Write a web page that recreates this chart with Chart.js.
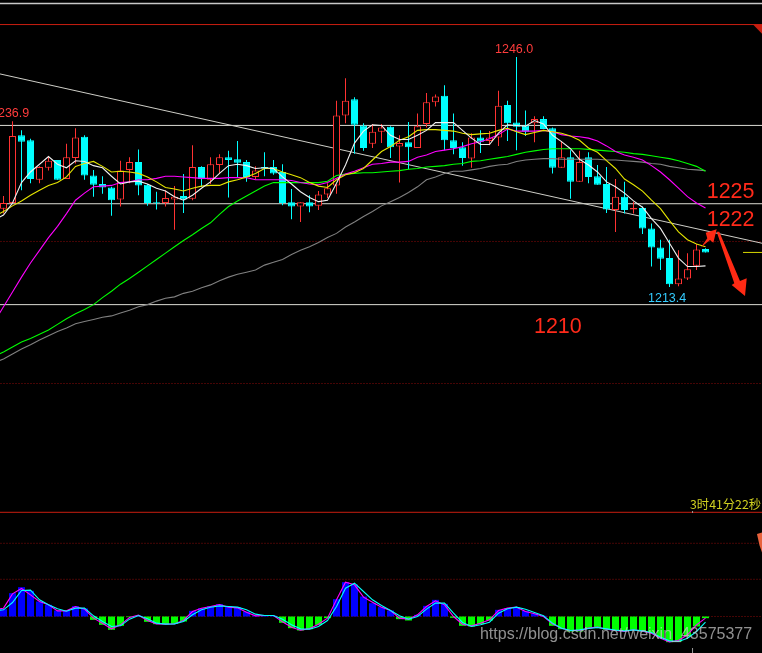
<!DOCTYPE html>
<html>
<head>
<meta charset="utf-8">
<style>
  html,body{margin:0;padding:0;background:#000;overflow:hidden}
  #wrap{position:relative;width:762px;height:653px}
</style>
<script src="https://cdn.jsdelivr.net/npm/chart.js@4"></script>
</head>
<body>
<div id="wrap"><canvas id="kline" width="762" height="653"></canvas></div>
<script>
// candles, one per bar index
const openPrices = [
  1224.5,1225.3,1234.9,1234.2,1228.6,1230.3,1231.4,1228.7,1231.7,1234.7,
  1229.2,1228.0,1227.5,1225.8,1230.0,1231.1,1227.9,1225.4,1225.3,1225.8,
  1226.3,1225.9,1230.4,1228.6,1230.7,1231.8,1231.5,1231.1,1229.0,1230.4,
  1230.4,1229.7,1225.4,1224.8,1225.4,1224.9,1226.5,1227.8,1237.7,1240.0,
  1236.3,1233.7,1235.4,1236.1,1233.3,1233.9,1233.1,1236.5,1239.6,1240.5,
  1234.2,1233.2,1231.6,1234.6,1234.1,1234.6,1239.2,1236.7,1236.3,1236.6,
  1237.2,1235.9,1230.3,1231.8,1228.3,1231.8,1229.1,1228.0,1224.3,1226.2,
  1224.4,1224.6,1221.7,1219.0,1217.5,1213.8,1214.6,1216.4,1218.8];
const closePrices = [
  1225.3,1234.8,1234.0,1228.7,1230.4,1231.3,1228.6,1231.8,1234.6,1229.2,
  1227.9,1227.5,1225.7,1229.9,1231.1,1227.8,1225.3,1225.3,1226.0,1226.2,
  1225.8,1230.4,1228.7,1230.8,1231.8,1231.4,1231.0,1229.0,1229.9,1230.2,
  1229.5,1225.3,1224.8,1225.4,1224.8,1226.5,1227.4,1237.7,1239.8,1236.4,
  1233.1,1235.4,1236.0,1233.2,1233.8,1233.2,1236.2,1239.6,1240.4,1234.2,
  1233.1,1231.7,1234.6,1234.0,1234.6,1239.1,1236.6,1236.1,1235.4,1237.2,
  1235.8,1230.3,1231.8,1228.3,1231.1,1229.0,1227.9,1224.4,1226.2,1224.3,
  1224.6,1221.7,1219.0,1217.4,1213.8,1214.6,1215.9,1218.7,1218.3];
const highPrices = [
  1226.3,1236.9,1235.6,1234.4,1230.5,1231.9,1231.4,1233.7,1235.9,1234.9,
  1230.0,1229.1,1227.6,1231.3,1231.8,1232.9,1228.0,1226.9,1227.1,1227.7,
  1229.4,1233.5,1230.5,1231.8,1232.2,1232.7,1234.1,1231.4,1230.5,1232.5,
  1231.4,1230.8,1227.3,1225.4,1226.4,1227.0,1228.1,1239.8,1243.0,1240.3,
  1236.6,1236.5,1236.5,1236.2,1234.9,1236.8,1238.0,1240.9,1240.7,1242.0,
  1238.0,1233.9,1235.2,1235.6,1235.5,1241.2,1239.8,1246.0,1238.4,1237.6,
  1237.6,1236.0,1234.1,1232.8,1232.7,1232.5,1230.7,1230.4,1228.7,1228.3,
  1225.5,1224.8,1222.4,1220.1,1220.1,1218.6,1218.2,1219.5,1218.9];
const lowPrices = [
  1223.8,1225.3,1227.1,1228.1,1228.1,1229.9,1228.6,1228.7,1230.9,1228.6,
  1226.2,1226.6,1223.5,1224.8,1228.1,1226.4,1224.9,1224.4,1224.8,1221.5,
  1223.9,1225.7,1227.6,1228.0,1229.5,1226.1,1228.9,1228.3,1228.6,1229.1,
  1229.3,1225.0,1223.0,1222.6,1224.0,1224.3,1226.0,1226.6,1236.6,1232.3,
  1232.7,1233.1,1233.8,1231.7,1228.2,1230.1,1233.1,1236.0,1239.0,1232.8,
  1232.2,1230.6,1230.3,1232.4,1233.5,1233.4,1234.1,1232.8,1234.8,1233.9,
  1235.8,1229.5,1230.3,1225.9,1228.3,1228.1,1227.9,1223.9,1221.2,1223.8,
  1223.8,1220.9,1216.3,1215.8,1213.4,1213.5,1214.4,1215.8,1218.3];

// moving averages, first value belongs to bar -1 (only its right end shows)
const ma5 = [1222.9,
  1223.6,1225.3,1228.2,1229.7,1230.8,1231.9,1230.8,1230.3,1231.3,1231.2,
  1230.6,1230.3,1229.1,1228.0,1228.3,1228.4,1228.0,1227.4,1227.0,1226.2,
  1225.7,1226.4,1227.4,1228.3,1229.5,1230.6,1230.8,1230.6,1230.2,1230.3,
  1230.2,1229.0,1228.0,1226.9,1226.1,1225.5,1225.7,1228.1,1230.7,1233.8,
  1235.5,1236.4,1236.3,1234.9,1234.3,1234.3,1234.9,1235.6,1236.7,1236.7,
  1236.7,1235.6,1234.5,1233.6,1233.6,1235.2,1236.4,1236.3,1236.2,1237.0,
  1236.5,1234.9,1234.0,1233.0,1231.5,1230.7,1229.7,1228.3,1227.6,1226.7,
  1225.6,1224.7,1223.1,1221.7,1219.6,1217.5,1216.3,1216.3,1216.4];
const ma10 = [1223.4,
  1224.1,1224.9,1225.6,1226.4,1227.1,1227.8,1228.2,1229.0,1230.5,1230.9,
  1231.2,1230.5,1229.7,1229.8,1229.7,1229.5,1229.0,1228.3,1227.5,1227.3,
  1227.0,1227.4,1227.7,1227.8,1227.8,1228.3,1228.6,1229.0,1229.5,1230.2,
  1230.2,1229.7,1229.3,1228.9,1228.2,1227.7,1227.5,1228.6,1229.3,1229.6,
  1230.2,1231.4,1232.6,1233.3,1234.2,1234.7,1235.6,1235.7,1235.7,1235.6,
  1235.5,1235.2,1235.0,1235.1,1235.2,1235.6,1235.9,1235.4,1235.0,1235.3,
  1235.6,1235.4,1235.2,1234.8,1234.2,1233.1,1232.5,1231.3,1230.2,1228.7,
  1227.9,1227.0,1225.7,1224.5,1222.8,1221.2,1220.1,1219.5,1219.1];
const ma20 = [1208.5,
  1210.6,1212.7,1214.8,1216.8,1218.6,1220.4,1222.0,1223.8,1225.7,1226.7,
  1227.6,1227.7,1227.8,1228.2,1228.3,1228.6,1228.6,1228.8,1229.1,1229.1,
  1229.0,1228.9,1228.8,1228.8,1228.8,1228.9,1228.9,1228.9,1228.6,1228.6,
  1228.6,1228.6,1228.5,1228.2,1228.0,1227.9,1228.2,1228.8,1229.4,1229.8,
  1230.3,1230.8,1230.9,1231.1,1231.1,1231.2,1231.8,1232.1,1232.6,1232.8,
  1233.0,1233.3,1233.7,1234.0,1234.4,1235.0,1235.8,1235.5,1235.5,1235.5,
  1235.6,1235.4,1235.0,1234.8,1234.7,1234.5,1234.1,1233.4,1232.6,1232.1,
  1231.8,1231.4,1230.6,1229.7,1228.6,1227.4,1226.2,1225.3,1224.6];
const ma40 = [1203.6,
  1204.2,1204.9,1205.6,1206.1,1206.7,1207.3,1208.1,1208.9,1209.6,1210.2,
  1210.9,1211.9,1212.8,1213.8,1214.6,1215.5,1216.4,1217.3,1218.2,1219.1,
  1220.0,1220.8,1221.7,1222.5,1223.7,1224.8,1225.6,1226.3,1227.0,1227.7,
  1228.2,1228.2,1228.2,1228.2,1228.2,1228.2,1228.4,1229.2,1229.4,1229.5,
  1229.6,1229.6,1229.7,1229.8,1229.9,1230.1,1230.2,1230.4,1230.5,1230.6,
  1230.8,1230.9,1231.2,1231.3,1231.5,1231.7,1231.9,1232.2,1232.5,1232.7,
  1232.9,1233.0,1233.0,1233.0,1233.0,1232.9,1232.8,1232.7,1232.6,1232.5,
  1232.3,1232.2,1232.0,1231.8,1231.6,1231.3,1230.9,1230.5,1229.8];
const ma60 = [1202.7,
  1203.2,1203.9,1204.6,1205.2,1205.9,1206.5,1207.1,1207.6,1208.2,1208.5,
  1208.8,1209.1,1209.3,1209.7,1210.1,1210.6,1210.9,1211.4,1211.8,1212.0,
  1212.5,1212.8,1213.3,1213.7,1214.3,1214.8,1215.2,1215.5,1215.8,1216.5,
  1216.9,1217.3,1218.0,1218.6,1219.1,1219.7,1220.4,1221.0,1221.9,1222.6,
  1223.4,1224.1,1224.9,1225.5,1226.1,1226.8,1227.6,1228.6,1229.0,1229.5,
  1229.8,1229.8,1230.0,1230.2,1230.5,1230.7,1230.8,1231.2,1231.4,1231.5,
  1231.6,1231.6,1231.5,1231.5,1231.5,1231.5,1231.5,1231.4,1231.4,1231.3,
  1231.2,1231.1,1230.9,1230.8,1230.5,1230.3,1230.1,1230.0,1229.9];

// macd panel
const macdHist = [
  .22,.70,.88,.77,.45,.35,.18,.18,.31,.24,
  -.10,-.25,-.40,-.28,-.02,.02,-.16,-.23,-.23,-.22,
  -.15,.17,.25,.31,.37,.30,.28,.15,.03,.02,
  .02,-.19,-.35,-.42,-.38,-.25,-.05,.52,1.03,.96,
  .60,.40,.28,.18,-.08,-.12,.05,.32,.50,.38,
  -.04,-.28,-.30,-.23,-.12,.20,.25,.28,.17,.08,
  .02,-.28,-.38,-.45,-.45,-.35,-.35,-.40,-.42,-.44,
  -.40,-.45,-.50,-.65,-.77,-.75,-.60,-.30,-.05];
const macdDif = [.20,
  .25,.68,.84,.65,.45,.35,.17,.17,.30,.22,
  -.05,-.20,-.37,-.25,-.03,.04,-.12,-.22,-.23,-.22,
  -.12,.15,.25,.30,.36,.28,.26,.13,.02,.03,
  .03,-.16,-.32,-.41,-.37,-.23,-.05,.50,1.03,.95,
  .58,.43,.28,.18,-.05,-.08,.05,.30,.47,.35,
  0,-.23,-.28,-.20,-.10,.18,.25,.28,.15,.08,
  0,-.22,-.35,-.42,-.42,-.35,-.32,-.38,-.42,-.45,
  -.40,-.44,-.50,-.65,-.76,-.72,-.55,-.25,-.05];
const macdDea = [.18,
  .20,.42,.78,.79,.50,.35,.23,.16,.25,.25,
  .02,-.15,-.30,-.28,-.08,.03,-.07,-.20,-.23,-.22,
  -.15,.05,.20,.28,.32,.30,.28,.20,.07,.03,
  .03,-.08,-.25,-.37,-.38,-.30,-.12,.30,.85,1.00,
  .75,.50,.33,.18,.02,-.08,0,.22,.40,.40,
  .10,-.18,-.30,-.25,-.17,.10,.23,.28,.22,.12,
  .02,-.20,-.35,-.42,-.40,-.36,-.33,-.37,-.41,-.43,
  -.40,-.43,-.48,-.62,-.73,-.75,-.65,-.45,-.17];
const macdRefs = [3.126, 2.196, 1.116, 0];

// price levels drawn across the chart
const levelPrices = [1236.3, 1225.2, 1210.9];
const dottedPrices = [1219.85, 1199.72];
const topLinePrice = 1250.6;
const windowEdgePrice = 1253.58;
const lastPrice = 1218.3;
const trendPrices = [1243.6, 1219.6];
const cursorBar = 76.56;

// notes: text, bar index, price
const noteTexts  = ['1236.9','1246.0','1213.4','1210','1225','1222','3时41分22秒','https://blog.csdn.net/weixin_43575377'];
const noteBars   = [-1.39, 54.61, 71.61, 58.94, 78.13, 78.13, 76.28, 52.94];
const notePrices = [1237.45, 1246.57, 1211.27, 1206.88, 1226.06, 1222.05, 1181.94, 1163.51];
const noteFonts  = ['12.5px "Liberation Sans"','12.5px "Liberation Sans"','12.5px "Liberation Sans"',
  '21.5px "Liberation Sans"','21.5px "Liberation Sans"','21.5px "Liberation Sans"',
  '12.3px "Noto Sans CJK SC"','16px "Liberation Sans"'];
const noteColors = ['#ff3c3c','#ff3c3c','#33ccff','#ff2a1a','#ff2a1a','#ff2a1a','#d0d020','rgba(200,200,200,.72)'];

// hand drawn arrows and corner marks, [bar index, price]
const arrowUp = [[77.5,1219.03],[78.2,1220.30],[78.02,1221.10],[79.24,1221.58],[78.87,1219.68],[78.5,1220.06]];
const arrowDown = [[79.24,1221.24],[79.53,1221.24],[81.83,1214.25],[82.58,1214.63],[82.39,1212.13],[80.91,1213.68],[81.2,1213.92]];
const cornerMark = [[83.28,1250.6],[84.3,1250.6],[84.3,1249.26]];
const iconMark = [[83.72,1178.4],[84.3,1178.6],[84.3,1175.7],[84.0,1176.8]];

const barIndex = openPrices.map((_,i)=>i);
const RED = '#ff3232', CYAN = '#00ffff';

function series(values, color, order, axis){
  return {type:'line', data: values.map((v,i)=>({x:i-1,y:v})), borderColor:color, borderWidth:1.1,
    pointRadius:0, tension:0, order:order, yAxisID:axis||'y'};
}
function hLine(value, color, axis, order, dash){
  return {type:'line', data:[{x:-1,y:value},{x:85,y:value}], borderColor:color, borderWidth:1,
    borderDash:dash||[], pointRadius:0, order:order, yAxisID:axis};
}

const datasets = [];
datasets.push(Object.assign(hLine(windowEdgePrice,'#c8c8c8','y',60),{borderWidth:1.5}));
levelPrices.forEach(p=>datasets.push(hLine(p,'#dcdcd4','y',60)));
dottedPrices.forEach(p=>datasets.push(hLine(p,'#8c0a0a','y',60,[1,2])));
datasets.push(hLine(topLinePrice,'#c81e10','y',60));
macdRefs.forEach((v,i)=>datasets.push(i==0 ? hLine(v,'#c81e10','yM',60) : hLine(v,'#8c0a0a','yM',60,[1,2])));
datasets.push({type:'line', data:[{x:-0.39,y:trendPrices[0]},{x:84.28,y:trendPrices[1]}], borderColor:'#cfcfc8',
  borderWidth:1, pointRadius:0, order:55, yAxisID:'y'});
datasets.push({type:'line', data:[{x:82.17,y:lastPrice},{x:84.3,y:lastPrice}], borderColor:'#d8d800',
  borderWidth:1, pointRadius:0, order:55, yAxisID:'y'});
// little cursor ticks on the panel edges
[[3.105,3.165],[-1.095,-.945]].forEach(r=>datasets.push({type:'line', data:[{x:cursorBar,y:r[0]},{x:cursorBar,y:r[1]}],
  borderColor:'#999', borderWidth:1, pointRadius:0, order:55, yAxisID:'yM'}));

// all bars share one stack name so they sit on the bar centre and keep barThickness
// inflateAmount 0 or the borderless bars grow by a third of a pixel and lose their gaps
datasets.push({type:'bar', stack:'k', barThickness:7, inflateAmount:0, yAxisID:'yM', order:50,
  data: macdHist.map((v,i)=>({x:i,y:[0,v]})),
  backgroundColor: macdHist.map(v=>v>=0?'#0000ff':'#00ff00')});

// wicks go under the bodies so hollow candles stay hollow
datasets.push({type:'bar', stack:'k', barThickness:1, inflateAmount:0, yAxisID:'y', order:40,
  data: barIndex.map(i=>({x:i,y:[lowPrices[i],highPrices[i]]})),
  backgroundColor: barIndex.map(i=>closePrices[i]>=openPrices[i]?RED:CYAN)});
datasets.push({type:'bar', stack:'k', barThickness:7, inflateAmount:0, yAxisID:'y', order:30,
  data: barIndex.map(i=>({x:i,y:[openPrices[i],closePrices[i]]})),
  backgroundColor: barIndex.map(i=>closePrices[i]>=openPrices[i]?'#000':CYAN),
  borderColor: barIndex.map(i=>closePrices[i]>=openPrices[i]?RED:CYAN),
  borderWidth:1, borderSkipped:false});

datasets.push(series(ma60,'#808080',24));
datasets.push(series(ma40,'#00ff00',23));
datasets.push(series(ma20,'#ff00ff',22));
datasets.push(series(ma10,'#e6e600',21));
datasets.push(series(ma5,'#f0f0f0',20));
datasets.push(series(macdDif,'#ff00ff',11,'yM'));
datasets.push(series(macdDea,'#00ffff',10,'yM'));

// text and hand marks on top of everything
const notesPlugin = {
  id:'notes',
  afterDatasetsDraw(chart){
    const {ctx, scales} = chart;
    const shape = (pts,color)=>{
      ctx.fillStyle = color;
      ctx.beginPath();
      pts.forEach((p,i)=>{
        const x = scales.x.getPixelForValue(p[0]), y = scales.y.getPixelForValue(p[1]);
        if(i==0) ctx.moveTo(x,y); else ctx.lineTo(x,y);
      });
      ctx.closePath();
      ctx.fill();
    };
    ctx.save();
    shape(arrowUp,'#ff2a14');
    shape(arrowDown,'#ff2a14');
    shape(cornerMark,'#c81e10');
    shape(iconMark,'#e8623c');
    ctx.textBaseline = 'alphabetic';
    ctx.textAlign = 'left';
    noteTexts.forEach((t,i)=>{
      ctx.font = noteFonts[i];
      ctx.fillStyle = noteColors[i];
      ctx.fillText(t, scales.x.getPixelForValue(noteBars[i]), scales.y.getPixelForValue(notePrices[i]));
    });
    ctx.restore();
  }
};

new Chart(document.getElementById('kline'), {
  type:'bar',
  data:{datasets},
  plugins:[notesPlugin],
  options:{
    responsive:false,
    devicePixelRatio:1,
    animation:false,
    events:[],
    layout:{padding:0},
    plugins:{legend:{display:false}, tooltip:{enabled:false}},
    scales:{
      // one bar every 9px, first bar centred at 3.5px
      x:{type:'linear', stacked:true, offset:false, min:-3.5/9, max:758.5/9, display:false},
      y:{type:'linear', stacked:false, min:1161.52, max:1254.08, display:false},
      yM:{type:'linear', stacked:false, min:-1.095, max:18.495, display:false}
    }
  }
});
</script>
</body>
</html>
